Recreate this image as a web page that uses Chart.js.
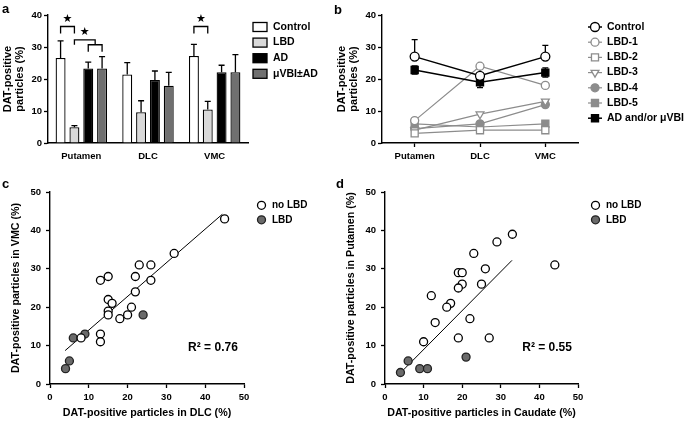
<!DOCTYPE html>
<html>
<head>
  <meta charset="utf-8">
  <title>DAT-positive particles by region</title>
  <script src="https://cdn.jsdelivr.net/npm/chart.js"></script>
  <style>
    body { margin: 0; background: #fff; }
    #wrap { position: relative; width: 685px; height: 421px; overflow: hidden; }
    #wrap canvas { position: absolute; left: 0; top: 0; }
    .tag { position: absolute; font: bold 13px "Liberation Sans", Arial, sans-serif; line-height: 13px; color: #000; }
  </style>
</head>
<body>
<div id="wrap">
  <canvas id="chartA" width="685" height="421"></canvas>
  <canvas id="chartB" width="685" height="421"></canvas>
  <canvas id="chartC" width="685" height="421"></canvas>
  <canvas id="chartD" width="685" height="421"></canvas>
  <div class="tag" style="left:2px; top:2px">a</div>
  <div class="tag" style="left:334px; top:3px">b</div>
  <div class="tag" style="left:2px; top:177px">c</div>
  <div class="tag" style="left:336px; top:177px">d</div>
</div>
<script>
// ---- panel a: mean and top of error bar per region
const regions = ['Putamen', 'DLC', 'VMC'];
const groupNames = ['Control', 'LBD', 'AD', 'μVBI±AD'];
const controlMean = [26.6, 21.4, 27.2];
const controlErr = [31.9, 25.1, 30.8];
const lbdMean = [4.9, 9.6, 10.5];
const lbdErr = [5.4, 13.2, 13.0];
const adMean = [23.3, 19.7, 22.1];
const adErr = [25.3, 22.5, 24.3];
const vbiMean = [23.3, 17.9, 22.1];
const vbiErr = [27.0, 22.1, 27.6];
// significance brackets: region index, from/to bar index, height, leg end
const brackets = [
  { cat: 0, from: 0, to: 1, y: 36.4, leg: 34.2 },
  { cat: 0, from: 1, to: 2.5, y: 32.2, leg: 30.7 },
  { cat: 0, from: 2, to: 3, y: 30.7, leg: 28.5 },
  { cat: 2, from: 0, to: 1, y: 36.4, leg: 34.2 }
];
const stars = [
  { cat: 0, at: 0.5, y: 38.6 },
  { cat: 0, at: 1.75, y: 34.6 },
  { cat: 2, at: 0.5, y: 38.6 }
];

// ---- panel b: individual cases
const caseNames = ['Control', 'LBD-1', 'LBD-2', 'LBD-3', 'LBD-4', 'LBD-5', 'AD and/or μVBI'];
const bControl = [27, 21, 27];
const bControlHi = [32.3, 24, 30.5];
const bLbd1 = [7, 24, 18];
const bLbd2 = [3, 4, 4];
const bLbd3 = [4, 9, 13];
const bLbd4 = [4.5, 6, 12];
const bLbd5 = [6, 5, 6];
const bAd = [22.8, 19, 22];
const bAdLo = [21.5, 17.3, 20.6];
const bAdHi = [24.1, 20.7, 23.5];

// ---- panel c: DLC vs VMC
const cNoLbdX = [45, 32, 23, 26, 13, 15, 22, 26, 22, 15, 16, 15, 15, 18, 20, 21, 13, 13, 8];
const cNoLbdY = [43, 34, 31, 31, 27, 28, 28, 27, 24, 22, 21, 19, 18, 17, 18, 20, 13, 11, 12];
const cLbdX = [24, 6, 9, 5, 4];
const cLbdY = [18, 12, 13, 6, 4];
const cFitX = [3.9, 44.4];
const cFitY = [8.7, 44.2];
const cR2 = 'R² = 0.76';

// ---- panel d: Caudate vs Putamen
const dNoLbdX = [33, 29, 23, 44, 26, 19, 20, 25, 20, 19, 12, 17, 16, 13, 22, 10, 19, 27];
const dNoLbdY = [39, 37, 34, 31, 30, 29, 29, 26, 26, 25, 23, 21, 20, 16, 17, 11, 12, 12];
const dLbdX = [21, 6, 4, 9, 11];
const dLbdY = [7, 6, 3, 4, 4];
const dFitX = [4.7, 32.9];
const dFitY = [3.6, 32.2];
const dR2 = 'R² = 0.55';

const FONT = '"Liberation Sans", Arial, Helvetica, sans-serif';
Chart.defaults.font.family = FONT;
Chart.defaults.font.weight = 'bold';
Chart.defaults.color = '#000';
Chart.defaults.animation = false;
Chart.defaults.responsive = false;
Chart.defaults.events = [];
Chart.defaults.plugins.legend.display = false;
Chart.defaults.plugins.tooltip.enabled = false;

const pts = (xs, ys) => xs.map((x, i) => ({ x: x, y: ys[i] }));
const gray = '#8c8c8c';

// vertical error bars read from errHigh / errLow on each dataset
const errorBarPlugin = {
  id: 'errorBars',
  beforeDatasetsDraw(chart) {
    const ctx = chart.ctx, ys = chart.scales.y;
    chart.data.datasets.forEach((ds, i) => {
      if (!ds.errHigh) return;
      const meta = chart.getDatasetMeta(i);
      ctx.save();
      ctx.strokeStyle = '#000';
      ctx.lineWidth = 1.3;
      meta.data.forEach((el, j) => {
        const x = el.x;
        const hi = ys.getPixelForValue(ds.errHigh[j]);
        const lo = ys.getPixelForValue(ds.errLow ? ds.errLow[j] : ds.data[j]);
        ctx.beginPath();
        ctx.moveTo(x, lo); ctx.lineTo(x, hi);
        ctx.moveTo(x - 3, hi); ctx.lineTo(x + 3, hi);
        if (ds.errLow) { ctx.moveTo(x - 3, lo); ctx.lineTo(x + 3, lo); }
        ctx.stroke();
      });
      ctx.restore();
    });
  }
};

// brackets and stars above the bars (panel a)
const bracketPlugin = {
  id: 'brackets',
  afterDatasetsDraw(chart) {
    const ctx = chart.ctx, ys = chart.scales.y;
    const barX = (cat, idx) => {
      const a = Math.floor(idx), f = idx - a;
      const x0 = chart.getDatasetMeta(a).data[cat].x;
      if (!f) return x0;
      const x1 = chart.getDatasetMeta(a + 1).data[cat].x;
      return x0 + (x1 - x0) * f;
    };
    ctx.save();
    ctx.strokeStyle = '#000';
    ctx.lineWidth = 1.3;
    brackets.forEach(b => {
      const x0 = barX(b.cat, b.from), x1 = barX(b.cat, b.to);
      const y = ys.getPixelForValue(b.y), l = ys.getPixelForValue(b.leg);
      ctx.beginPath();
      ctx.moveTo(x0, l); ctx.lineTo(x0, y); ctx.lineTo(x1, y); ctx.lineTo(x1, l);
      ctx.stroke();
    });
    ctx.fillStyle = '#000';
    ctx.font = '11px "DejaVu Sans"';
    ctx.textAlign = 'center';
    ctx.textBaseline = 'middle';
    stars.forEach(s => ctx.fillText('★', barX(s.cat, s.at), ys.getPixelForValue(s.y)));
    ctx.restore();
  }
};

// box legend (panel a)
const boxLegendPlugin = {
  id: 'boxLegend',
  afterDraw(chart) {
    const ctx = chart.ctx, area = chart.chartArea;
    ctx.save();
    ctx.font = 'bold 10.5px ' + FONT;
    ctx.textBaseline = 'middle';
    chart.data.datasets.forEach((ds, i) => {
      const y = area.top + 12 + i * 15.6;
      ctx.fillStyle = ds.backgroundColor;
      ctx.strokeStyle = '#000';
      ctx.lineWidth = 1.3;
      ctx.fillRect(area.right + 5, y - 4.5, 14, 9);
      ctx.strokeRect(area.right + 5, y - 4.5, 14, 9);
      ctx.fillStyle = '#000';
      ctx.fillText(ds.label, area.right + 25, y);
    });
    ctx.restore();
  }
};

// line + marker legend (panel b)
const lineLegendPlugin = {
  id: 'lineLegend',
  afterDraw(chart) {
    const ctx = chart.ctx, area = chart.chartArea;
    ctx.save();
    ctx.font = 'bold 10.5px ' + FONT;
    ctx.textBaseline = 'middle';
    chart.data.datasets.forEach((ds, i) => {
      const y = area.top + 12 + i * 15.2;
      ctx.strokeStyle = ds.borderColor;
      ctx.lineWidth = ds.borderWidth;
      ctx.beginPath();
      ctx.moveTo(area.right + 10, y); ctx.lineTo(area.right + 24, y);
      ctx.stroke();
      ctx.fillStyle = ds.pointBackgroundColor;
      ctx.strokeStyle = ds.pointBorderColor;
      ctx.lineWidth = 1.3;
      Chart.helpers.drawPoint(ctx, { pointStyle: ds.pointStyle, rotation: ds.pointRotation || 0, radius: ds.pointRadius, borderWidth: 1.3 }, area.right + 17, y);
      ctx.fillStyle = '#000';
      ctx.fillText(ds.label, area.right + 29, y);
    });
    ctx.restore();
  }
};

// marker legend and R² label (panels c, d)
const scatterExtrasPlugin = {
  id: 'scatterExtras',
  afterDraw(chart, args, opts) {
    const ctx = chart.ctx, area = chart.chartArea;
    ctx.save();
    ctx.font = 'bold 10px ' + FONT;
    ctx.textBaseline = 'middle';
    chart.data.datasets.filter(ds => ds.label).forEach((ds, i) => {
      const y = area.top + 13.3 + i * 14.5;
      ctx.fillStyle = ds.pointBackgroundColor;
      ctx.strokeStyle = ds.pointBorderColor;
      ctx.lineWidth = 1.3;
      Chart.helpers.drawPoint(ctx, { pointStyle: 'circle', radius: 4, borderWidth: 1.3 }, area.right + 17.5, y);
      ctx.fillStyle = '#000';
      ctx.fillText(ds.label, area.right + 28, y);
    });
    ctx.font = 'bold 12px ' + FONT;
    ctx.textAlign = 'center';
    ctx.fillText(opts.text, chart.scales.x.getPixelForValue(opts.x), chart.scales.y.getPixelForValue(opts.y));
    ctx.restore();
  }
};

const tickAxis = (extra) => Object.assign({
  border: { color: '#000', width: 1.4 },
  grid: { drawOnChartArea: false, color: '#000', tickLength: 4, tickWidth: 1.3 },
  ticks: { font: { size: 9 }, color: '#000', padding: 2 }
}, extra);

// ---------- a
new Chart(document.getElementById('chartA'), {
  type: 'bar',
  data: {
    labels: regions,
    datasets: [
      { label: groupNames[0], data: controlMean, errHigh: controlErr, backgroundColor: '#ffffff' },
      { label: groupNames[1], data: lbdMean, errHigh: lbdErr, backgroundColor: '#d9d9d9' },
      { label: groupNames[2], data: adMean, errHigh: adErr, backgroundColor: '#000000' },
      { label: groupNames[3], data: vbiMean, errHigh: vbiErr, backgroundColor: '#707070' }
    ]
  },
  options: {
    layout: { padding: { left: 0, top: 15, right: 437, bottom: 246 } },
    datasets: { bar: { categoryPercentage: 0.83, barPercentage: 0.72, borderColor: '#000', borderWidth: 1.3 } },
    scales: {
      x: {
        grid: { display: false, drawTicks: false },
        border: { color: '#000', width: 1.5 },
        ticks: { font: { size: 9.5 }, padding: 8 },
        afterFit(s) { s.height = 32; }
      },
      y: tickAxis({
        min: 0, max: 40,
        ticks: { stepSize: 10, font: { size: 9.5 }, padding: 2 },
        title: { display: true, text: ['DAT-positive', 'particles (%)'], font: { size: 11, lineHeight: 1.1 }, padding: { top: 2, bottom: 0 } },
        afterFit(s) { s.width = 48; }
      })
    }
  },
  plugins: [errorBarPlugin, bracketPlugin, boxLegendPlugin]
});

// ---------- b
const lineSet = (label, data, color, style, fill, extra) => Object.assign({
  label: label, data: data, borderColor: color, borderWidth: 1.2,
  pointStyle: style, pointRadius: style === 'rect' ? 5 : 4,
  pointBackgroundColor: fill, pointBorderColor: color, pointBorderWidth: 1.3
}, extra || {});

new Chart(document.getElementById('chartB'), {
  type: 'line',
  data: {
    labels: regions,
    datasets: [
      lineSet(caseNames[0], bControl, '#000', 'circle', '#fff', { errHigh: bControlHi, borderWidth: 1.5, pointRadius: 4.5, order: 0 }),
      lineSet(caseNames[1], bLbd1, gray, 'circle', '#fff', { order: 1 }),
      lineSet(caseNames[2], bLbd2, gray, 'rect', '#fff', { order: 1 }),
      lineSet(caseNames[3], bLbd3, gray, 'triangle', '#fff', { pointRotation: 180, pointRadius: 4.5, order: 1 }),
      lineSet(caseNames[4], bLbd4, gray, 'circle', gray, { order: 1 }),
      lineSet(caseNames[5], bLbd5, gray, 'rect', gray, { order: 1 }),
      lineSet(caseNames[6], bAd, '#000', 'rect', '#000', { errHigh: bAdHi, errLow: bAdLo, borderWidth: 1.5, order: 0 })
    ]
  },
  options: {
    layout: { padding: { left: 334, top: 15, right: 107, bottom: 246 } },
    scales: {
      x: tickAxis({
        offset: true,
        grid: { drawOnChartArea: false, offset: false, color: '#000', tickLength: 4, tickWidth: 1.3 },
        ticks: { font: { size: 9.5 }, padding: 4 },
        afterFit(s) { s.height = 32; }
      }),
      y: tickAxis({
        min: 0, max: 40,
        ticks: { stepSize: 10, font: { size: 9.5 }, padding: 2 },
        title: { display: true, text: ['DAT-positive', 'particles (%)'], font: { size: 11, lineHeight: 1.1 }, padding: { top: 2, bottom: 0 } },
        afterFit(s) { s.width = 48; }
      })
    }
  },
  plugins: [errorBarPlugin, lineLegendPlugin]
});

// ---------- c, d
function scatterPanel(id, padLeft, padRight, noX, noY, lbdX, lbdY, fitX, fitY, xTitle, yTitle, r2) {
  new Chart(document.getElementById(id), {
    type: 'scatter',
    data: {
      datasets: [
        { label: 'no LBD', data: pts(noX, noY), pointRadius: 4, pointBackgroundColor: '#fff', pointBorderColor: '#000', pointBorderWidth: 1.3 },
        { label: 'LBD', data: pts(lbdX, lbdY), pointRadius: 4, pointBackgroundColor: '#6a6a6a', pointBorderColor: '#222', pointBorderWidth: 1.3 },
        { type: 'line', data: pts(fitX, fitY), borderColor: '#000', borderWidth: 1, pointRadius: 0, order: 1 }
      ]
    },
    options: {
      layout: { padding: { left: padLeft, top: 192, right: padRight, bottom: 2 } },
      scales: {
        x: tickAxis({
          min: 0, max: 50,
          ticks: { stepSize: 10, font: { size: 9.5 }, padding: 4 },
          title: { display: true, text: xTitle, font: { size: 10.7, lineHeight: 1.2 }, padding: 0 },
          afterFit(s) { s.height = 35; }
        }),
        y: tickAxis({
          min: 0, max: 50,
          ticks: { stepSize: 10, font: { size: 9.5 }, padding: 5 },
          title: { display: true, text: yTitle, font: { size: 10.7, lineHeight: 1.2 }, padding: { top: 2, bottom: 0 } },
          afterFit(s) { s.width = 42; }
        })
      },
      plugins: { scatterExtras: { text: r2, x: 42, y: 9.4 } }
    },
    plugins: [scatterExtrasPlugin]
  });
}
scatterPanel('chartC', 8, 441, cNoLbdX, cNoLbdY, cLbdX, cLbdY, cFitX, cFitY,
  'DAT-positive particles in DLC (%)', 'DAT-positive particles in VMC (%)', cR2);
scatterPanel('chartD', 343, 107, dNoLbdX, dNoLbdY, dLbdX, dLbdY, dFitX, dFitY,
  'DAT-positive particles in Caudate (%)', 'DAT-positive particles in Putamen (%)', dR2);
</script>
</body>
</html>
